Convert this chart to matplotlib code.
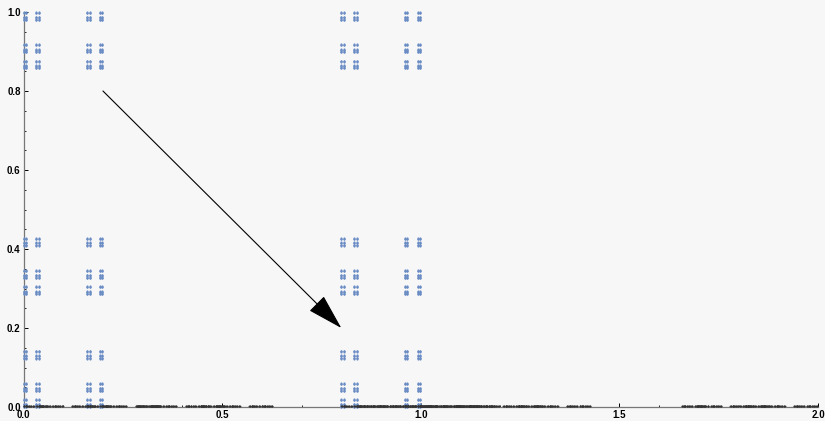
import numpy as np
import matplotlib.pyplot as plt
import matplotlib as mpl
from itertools import product

# cantor-type sets: x uses base 5 digits {0,4}, y uses base 7 digits {0,2,6}
x_base = 5
x_digits = [0, 4]
y_base = 7
y_digits = [0, 2, 6]
depth = 4

# arrow showing the projection direction (x + y = const)
arrow_start = (0.2, 0.8)
arrow_end = (0.8, 0.2)

x_ticks = [0.0, 0.5, 1.0, 1.5, 2.0]
y_ticks = [0.0, 0.2, 0.4, 0.6, 0.8, 1.0]


def cantor_points(base, digits, depth):
    # all finite digit expansions of given depth
    pts = []
    for combo in product(digits, repeat=depth):
        pts.append(sum(d * float(base) ** -(i + 1) for i, d in enumerate(combo)))
    return np.array(pts)


xs = cantor_points(x_base, x_digits, depth)
ys = cantor_points(y_base, y_digits, depth)
X, Y = np.meshgrid(xs, ys)
X = X.ravel()
Y = Y.ravel()
proj = np.unique(np.round(X + Y, 6))

mpl.rcParams['font.family'] = 'Liberation Sans'
bg = '#f7f7f7'

fig = plt.figure(figsize=(8.25, 4.21), dpi=100, facecolor=bg)
ax = fig.add_axes([23.5 / 825, 14 / 421, (818 - 23.5) / 825, (407 - 12) / 421])
ax.set_facecolor(bg)

ax.scatter(X, Y, s=2.4, color='#6a8cc4', linewidths=0, clip_on=False, zorder=3)
ax.scatter(proj, np.zeros_like(proj) + 0.002, s=1.8, color='#333333', linewidths=0,
           clip_on=False, zorder=4)

ax.annotate('', xy=arrow_end, xytext=arrow_start,
            arrowprops=dict(arrowstyle='-|>,head_length=2.3,head_width=0.66',
                            mutation_scale=10, color='black', lw=0.8,
                            shrinkA=0, shrinkB=0))

ax.set_xlim(0, 2)
ax.set_ylim(0, 1)
for s in ['top', 'right']:
    ax.spines[s].set_visible(False)
for s in ['left', 'bottom']:
    ax.spines[s].set_color('#777777')
    ax.spines[s].set_linewidth(0.9)
    ax.spines[s].set_position(('data', 0))

ax.set_xticks(x_ticks)
ax.set_yticks(y_ticks)
ax.set_xticklabels(['%.1f' % t for t in x_ticks])
ax.set_yticklabels(['%.1f' % t for t in y_ticks])
ax.set_xticks(np.arange(0, 2.001, 0.1), minor=True)
ax.set_yticks(np.arange(0, 1.001, 0.05), minor=True)
ax.tick_params(which='major', direction='in', length=3, width=0.7, color='black',
               labelsize=7, pad=2)
ax.tick_params(which='minor', direction='in', length=1.5, width=0.6, color='black')
for lab in ax.get_xticklabels() + ax.get_yticklabels():
    lab.set_fontweight('bold')

fig.savefig('out.png', dpi=100, facecolor=bg)
